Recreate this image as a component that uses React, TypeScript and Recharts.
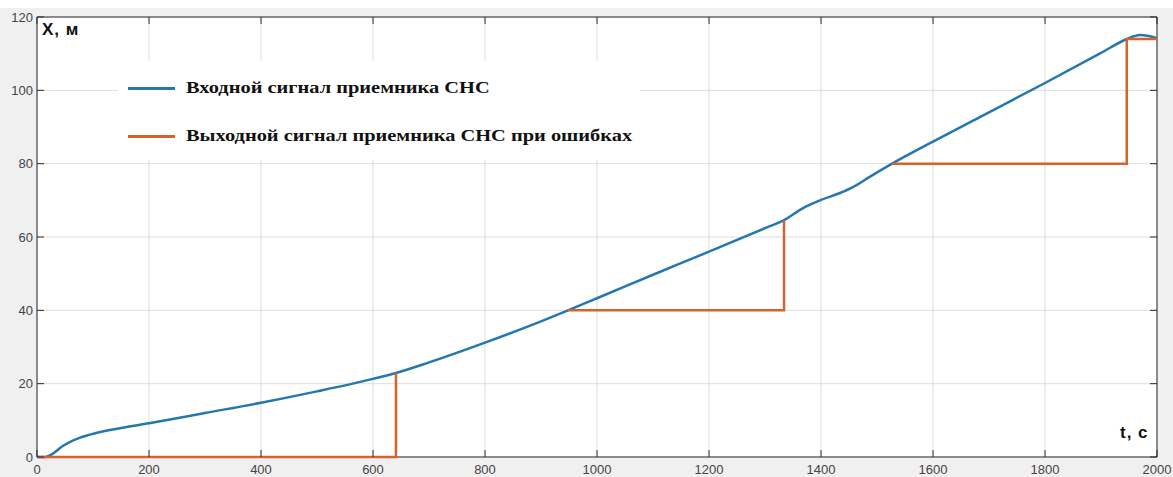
import { LineChart, Line, XAxis, YAxis, CartesianGrid, ReferenceArea } from 'recharts'

// input signal of the receiver (blue)
const inTime = [0, 15, 25, 46, 77, 107, 150, 200, 300, 400, 500, 600, 641, 700, 800, 900, 948, 1000, 1100, 1200, 1300, 1334, 1368, 1400, 1434, 1457, 1487, 1527, 1600, 1700, 1800, 1900, 1946, 1960, 1970, 1985, 2000]
const inValue = [0, 0, 0.6, 3.0, 5.3, 6.6, 7.9, 9.2, 12.0, 14.8, 17.9, 21.3, 22.9, 25.8, 31.2, 37, 40, 43.3, 49.7, 56, 62.4, 64.6, 67.9, 70.1, 72, 73.6, 76.4, 80, 86, 94, 102, 110.2, 114, 114.8, 115.1, 114.8, 114.2]

// output signal with errors (orange), null breaks the line
const outTime = [0, 641, 641, 641, 948, 1334, 1334, 1334, 1527, 1946, 1946, 2000]
const outValue: (number | null)[] = [0, 0, 22.9, null, 40, 40, 64.6, null, 80, 80, 114, 114]

const xTicks = [0, 200, 400, 600, 800, 1000, 1200, 1400, 1600, 1800, 2000]
const yTicks = [0, 20, 40, 60, 80, 100, 120]

const legendNames = ['Входной сигнал приемника СНС', 'Выходной сигнал приемника СНС при ошибках']
const BLUE = '#2477b0'
const ORANGE = '#d9622b'
const AXIS = '#2b2b2b'

const inData = inTime.map((t, i) => ({ t, x: inValue[i] }))
const outData = outTime.map((t, i) => ({ t, x: outValue[i] }))

const PLOT_TOP = 17
const PLOT_BOTTOM = 457
const PLOT_LEFT = 37
const PLOT_RIGHT = 1157

const XTick = (props: any) => {
  const { x, y, payload } = props
  return (
    <g>
      <line x1={x} x2={x} y1={PLOT_BOTTOM} y2={PLOT_BOTTOM - 7} stroke={AXIS} />
      <line x1={x} x2={x} y1={PLOT_TOP} y2={PLOT_TOP + 7} stroke={AXIS} />
      <text x={x} y={y} dy={9} textAnchor="middle" fill="#444" fontSize={13} fontFamily="'Liberation Sans', Arial, sans-serif">
        {payload.value}
      </text>
    </g>
  )
}

const YTick = (props: any) => {
  const { x, y, payload } = props
  return (
    <g>
      <line x1={PLOT_LEFT} x2={PLOT_LEFT + 7} y1={y} y2={y} stroke={AXIS} />
      <line x1={PLOT_RIGHT} x2={PLOT_RIGHT - 7} y1={y} y2={y} stroke={AXIS} />
      <text x={x} y={y} dy={4.5} textAnchor="end" fill="#444" fontSize={13} fontFamily="'Liberation Sans', Arial, sans-serif">
        {payload.value}
      </text>
    </g>
  )
}

export default function App() {
  return (
    <div style={{ position: 'absolute', left: 0, top: 0, width: 1173, height: 477, background: '#f0f0f0', overflow: 'hidden' }}>
      <div style={{ position: 'absolute', left: 0, top: 0, width: 1173, height: 8, background: '#fff' }} />
      <LineChart width={1173} height={477} data={inData} margin={{ top: 17, right: 16, left: 0, bottom: 0 }}>
        <CartesianGrid stroke="#dedede" fill="#fff" horizontalValues={yTicks} verticalValues={xTicks} />
        <XAxis
          dataKey="t"
          type="number"
          domain={[0, 2000]}
          ticks={xTicks}
          height={20}
          axisLine={false}
          tickLine={false}
          tickSize={0}
          tickMargin={8}
          interval={0}
          tick={<XTick />}
        />
        <YAxis
          type="number"
          domain={[0, 120]}
          ticks={yTicks}
          width={37}
          axisLine={false}
          tickLine={false}
          tickSize={0}
          tickMargin={4}
          interval={0}
          tick={<YTick />}
        />
        <Line data={inData} dataKey="x" stroke={BLUE} strokeWidth={2.5} dot={false} isAnimationActive={false} type="monotone" />
        <Line data={outData} dataKey="x" stroke={ORANGE} strokeWidth={2.5} dot={false} isAnimationActive={false} type="linear" connectNulls={false} />
        <ReferenceArea x1={0} x2={2000} y1={0} y2={120} fill="none" stroke={AXIS} strokeWidth={1} ifOverflow="visible" />
      </LineChart>

      <div
        style={{
          position: 'absolute',
          left: 118,
          top: 61,
          width: 522,
          height: 99,
          background: '#fff',
        }}
      >
        {legendNames.map((name, i) => (
          <div key={name} style={{ position: 'absolute', left: 10, top: 15 + i * 48, display: 'flex', alignItems: 'center', height: 24 }}>
            <div style={{ width: 47, height: 3, background: i === 0 ? BLUE : ORANGE }} />
            <span
              style={{
                marginLeft: 11,
                fontFamily: "'Liberation Serif', 'Times New Roman', serif",
                fontWeight: 'bold',
                fontSize: 17,
                color: '#111',
                whiteSpace: 'nowrap',
                display: 'inline-block',
                transform: 'scaleX(1.2)',
                transformOrigin: 'left center',
              }}
            >
              {name}
            </span>
          </div>
        ))}
      </div>

      <div
        style={{
          position: 'absolute',
          left: 42,
          top: 20,
          fontFamily: "'Liberation Sans', Arial, sans-serif",
          fontWeight: 'bold',
          fontSize: 17,
          color: '#111',
          letterSpacing: 1,
        }}
      >
        X, м
      </div>
      <div
        style={{
          position: 'absolute',
          left: 1120,
          top: 423,
          fontFamily: "'Liberation Sans', Arial, sans-serif",
          fontWeight: 'bold',
          fontSize: 17,
          color: '#111',
          letterSpacing: 1,
        }}
      >
        t, с
      </div>
    </div>
  )
}
